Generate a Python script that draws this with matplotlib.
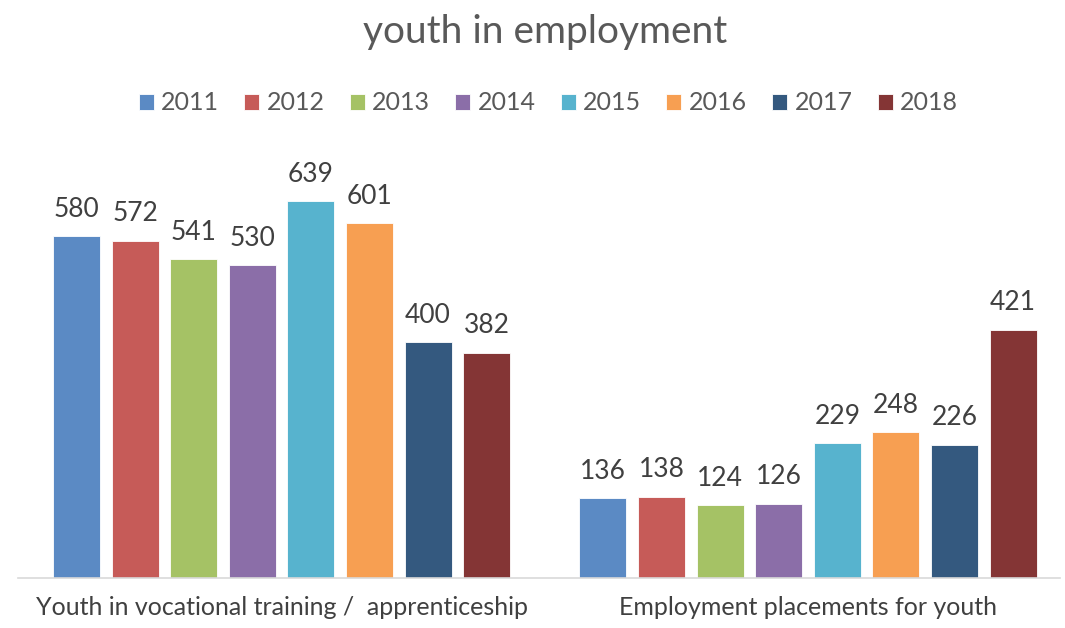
import numpy as np
import matplotlib.pyplot as plt

categories = ['Youth in vocational training /  apprenticeship', 'Employment placements for youth']
years = ['2011', '2012', '2013', '2014', '2015', '2016', '2017', '2018']
values = {
    '2011': [580, 136],
    '2012': [572, 138],
    '2013': [541, 124],
    '2014': [530, 126],
    '2015': [639, 229],
    '2016': [601, 248],
    '2017': [400, 226],
    '2018': [382, 421],
}
colors = ['#5B8AC4', '#C65B58', '#A5C265', '#8B6EA8', '#57B3CE', '#F79F52', '#34597F', '#843535']

plt.rcParams['font.family'] = ['Lato', 'DejaVu Sans']
text_color = '#595959'


def main():
    fig = plt.figure(figsize=(10.65, 6.28), dpi=100)
    ax = fig.add_axes([18 / 1065, 50 / 628, 1042 / 1065, 428 / 628])

    x = np.arange(len(categories))
    step = 0.1113
    width = 0.0893
    for i, yr in enumerate(years):
        off = (i - 3.5) * step
        bars = ax.bar(x + off, values[yr], width, color=colors[i], label=yr,
                      edgecolor='white', linewidth=0.6)
        for b, v in zip(bars, values[yr]):
            ax.text(b.get_x() + b.get_width() / 2, v + 24, str(v), ha='center', va='bottom',
                    fontsize=19, color='#404040')

    ax.set_xlim(-0.5005, 1.4786)
    ax.set_ylim(0, 725.4)
    ax.set_yticks([])
    ax.set_xticks(x)
    ax.set_xticklabels(categories, fontsize=18, color='#404040')
    ax.tick_params(axis='x', length=0, pad=13)
    for s in ['top', 'right', 'left']:
        ax.spines[s].set_visible(False)
    ax.spines['bottom'].set_color('#D9D9D9')
    ax.spines['bottom'].set_linewidth(1.2)

    fig.text(0.512, 1 - 32 / 628, 'youth in employment', ha='center', va='center',
             fontsize=28, color=text_color)
    fig.legend(loc='center', bbox_to_anchor=(0.515, 1 - 103 / 628), ncol=8, frameon=False,
               fontsize=18, handlelength=0.6, handleheight=0.6, handletextpad=0.3,
               columnspacing=1.0, labelcolor=text_color)

    plt.savefig('out.png', dpi=100)


if __name__ == '__main__':
    main()
